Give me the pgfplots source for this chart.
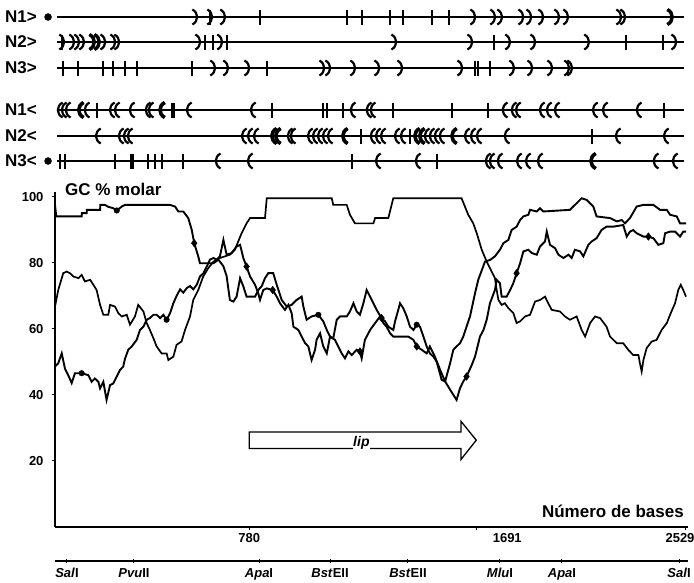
\documentclass[border=0pt]{standalone}
\usepackage{fontspec}
\setmainfont{Liberation Sans}
\usepackage{pgfplots}
\pgfplotsset{compat=1.18}
\pgfdeclareplotmark{rarc}{%
  \pgfpathmoveto{\pgfqpoint{-0.35\pgfplotmarksize}{\pgfplotmarksize}}%
  \pgfpathcurveto{\pgfqpoint{0.5\pgfplotmarksize}{0.55\pgfplotmarksize}}{\pgfqpoint{0.5\pgfplotmarksize}{-0.55\pgfplotmarksize}}{\pgfqpoint{-0.35\pgfplotmarksize}{-\pgfplotmarksize}}%
  \pgfusepathqstroke}
\pgfdeclareplotmark{larc}{%
  \pgfpathmoveto{\pgfqpoint{0.35\pgfplotmarksize}{\pgfplotmarksize}}%
  \pgfpathcurveto{\pgfqpoint{-0.5\pgfplotmarksize}{0.55\pgfplotmarksize}}{\pgfqpoint{-0.5\pgfplotmarksize}{-0.55\pgfplotmarksize}}{\pgfqpoint{0.35\pgfplotmarksize}{-\pgfplotmarksize}}%
  \pgfusepathqstroke}
\newcommand{\lbl}{\fontsize{17}{19}\selectfont\bfseries}
\newcommand{\tck}{\fontsize{13}{15}\selectfont\bfseries}
\begin{document}
\begin{tikzpicture}[x=1pt,y=1pt]
\useasboundingbox (0,0) rectangle (694,-582);
% ---------------- ORF tracks ----------------
\node[anchor=west,font=\lbl,inner sep=0pt] at (5pt,-17pt) {N1>};
\node[anchor=west,font=\lbl,inner sep=0pt] at (5pt,-42pt) {N2>};
\node[anchor=west,font=\lbl,inner sep=0pt] at (5pt,-68pt) {N3>};
\node[anchor=west,font=\lbl,inner sep=0pt] at (5pt,-110pt) {N1<};
\node[anchor=west,font=\lbl,inner sep=0pt] at (5pt,-136pt) {N2<};
\node[anchor=west,font=\lbl,inner sep=0pt] at (5pt,-161pt) {N3<};
\begin{axis}[at={(55pt,0pt)}, anchor=north west, scale only axis,
  width=633pt, height=175pt, xmin=0, xmax=2541, ymin=0, ymax=175,
  y dir=reverse, hide axis, clip=false]
\addplot[black, line width=2.8pt] coordinates {(8,17) (2525,17)};
\addplot[black, line width=2.8pt] coordinates {(8,42) (2525,42)};
\addplot[black, line width=2.8pt] coordinates {(8,68) (2525,68)};
\addplot[black, line width=2.8pt] coordinates {(8,110) (2525,110)};
\addplot[black, line width=2.8pt] coordinates {(8,136) (2525,136)};
\addplot[black, line width=2.8pt] coordinates {(8,161) (2525,161)};
% start dots
\addplot[only marks, mark=*, mark size=3.5pt, black] coordinates {(-28,17) (-28,161)};
% forward frames: arcs
\addplot[only marks, mark=rarc, mark size=7.5pt, black, mark options={line width=2.2pt}] coordinates {
(562,17) (622,17) (674,17) (1678,17) (1758,17) (1786,17) (1871,17) (1903,17) (1951,17) (2015,17) (2051,17) (2264,17) (2280,17) (2469,17)
(28,42) (68,42) (88,42) (108,42) (149,42) (169,42) (193,42) (233,42) (249,42) (574,42) (662,42) (1361,42) (1666,42) (1818,42) (1919,42) (2135,42) (2485,42)
(634,68) (686,68) (771,68) (1072,68) (1096,68) (1196,68) (1293,68) (1385,68) (1626,68) (1834,68) (1907,68) (1987,68) (2055,68) (2067,68)};
\addplot[only marks, mark=rarc, mark size=7.5pt, black, mark options={line width=3.4pt}] coordinates {(149,42) (169,42) (2469,17)};
% reverse frames: arcs
\addplot[only marks, mark=larc, mark size=7.5pt, black, mark options={line width=2.2pt}] coordinates {
(20,110) (36,110) (52,110) (104,110) (128,110) (229,110) (249,110) (309,110) (373,110) (385,110) (430,110) (538,110) (795,110) (1196,110) (1260,110) (1276,110) (1806,110) (1842,110) (1859,110) (1955,110) (1983,110) (2015,110) (2168,110) (2208,110) (2344,110)
(173,136) (265,136) (285,136) (301,136) (759,136) (783,136) (807,136) (879,136) (895,136) (943,136) (955,136) (1024,136) (1044,136) (1064,136) (1084,136) (1104,136) (1164,136) (1276,136) (1297,136) (1317,136) (1373,136) (1397,136) (1453,136) (1473,136) (1493,136) (1513,136) (1533,136) (1553,136) (1602,136) (1654,136) (1678,136) (1702,136) (1814,136) (2260,136) (2453,136)
(654,161) (783,161) (1297,161) (1457,161) (1738,161) (1754,161) (1786,161) (1863,161) (1899,161) (1947,161) (2160,161) (2412,161) (2489,161)};
\addplot[only marks, mark=larc, mark size=7.5pt, black, mark options={line width=3.6pt}] coordinates {
(104,110) (430,110) (879,136) (895,136) (1164,136) (1453,136) (1473,136) (1602,136) (2160,161)};
% stop codons: bars
\addplot[only marks, mark=|, mark size=7.5pt, black, mark options={line width=2.2pt}] coordinates {
(622,17) (823,17) (1172,17) (1232,17) (1345,17) (1397,17) (1513,17) (1582,17)
(28,42) (602,42) (634,42) (690,42) (1762,42) (2292,42) (2441,42)
(32,68) (92,68) (193,68) (233,68) (281,68) (329,68) (550,68) (851,68) (1686,68) (1698,68) (1746,68)
(169,110) (474,110) (871,110) (1076,110) (1092,110) (1156,110) (1357,110) (1594,110) (1738,110) (2445,110)
(1228,136) (1425,136) (2156,136)
(20,161) (40,161) (241,161) (309,161) (373,161) (401,161) (430,161) (514,161) (1192,161) (1533,161)};
\addplot[only marks, mark=|, mark size=7.5pt, black, mark options={line width=3.6pt}] coordinates {(474,110) (309,161)};
\end{axis}
% ---------------- GC plot ----------------
\node[anchor=west,font=\lbl,inner sep=0pt] at (65pt,-189pt) {GC \% molar};
\node[anchor=east,font=\lbl,inner sep=0pt] at (684pt,-511pt) {Número de bases};
\begin{axis}[at={(55pt,-527pt)}, anchor=south west, scale only axis,
  width=633pt, height=335pt, xmin=0, xmax=2541, ymin=0, ymax=101.5,
  axis x line=bottom, axis y line=left,
  axis line style={line width=2.2pt,-},
  ytick={20,40,60,80,100}, yticklabels={20,40,60,80,100},
  yticklabel style={font=\tck, xshift=-5pt},
  xtick={780,1691,2529},
  xticklabels={780,\hspace*{62pt}1691,2529\hspace*{10pt}},
  xticklabel style={font=\tck},
  tick style={black, line width=1pt}, major tick length=3pt,
  tick align=outside, clip=false]
% GC curve A (frame high at the 5' end)
\addplot[black, line width=1.9pt] coordinates {
(0,97.6) (5,94.1) (107,94.1) (108,95.1) (127,95.1) (128,96.1) (181,96.1) (182,97.6) (201,97.6) (214,97.0) (234,96.6) (248,95.9) (268,97.1) (281,97.6) (462,97.6) (482,97.1) (495,95.6) (515,95.6) (535,93.6) (549,90.0) (559,86.0) (575,82.0) (582,79.9) (636,79.9) (656,81.0) (676,79.0) (689,76.0) (702,68.8) (716,68.3) (729,69.8) (743,75.4) (756,72.9) (769,69.8) (803,69.8) (816,71.8) (830,73.0) (843,75.4) (856,76.9) (876,76.9) (890,73.4) (910,68.8) (930,66.8) (950,67.3) (970,68.8) (990,69.8) (997,66.8) (1010,62.8) (1030,63.8) (1057,64.3) (1077,62.3) (1091,59.7) (1104,57.7) (1117,57.2) (1131,62.8) (1144,63.8) (1171,63.8) (1184,65.3) (1198,67.8) (1211,65.3) (1224,64.3) (1238,67.8) (1251,71.8) (1265,69.8) (1278,67.8) (1291,65.8) (1311,63.3) (1325,62.3) (1338,60.7) (1358,59.7) (1365,62.3) (1378,65.8) (1385,67.8) (1398,66.3) (1412,63.8) (1425,60.7) (1439,59.7) (1452,61.3) (1465,60.7) (1479,57.7) (1492,54.7) (1505,52.6) (1519,51.6) (1532,50.1) (1552,44.6) (1566,44.1) (1586,49.6) (1599,53.7) (1612,54.7) (1626,55.7) (1639,57.7) (1652,60.7) (1666,63.8) (1686,70.8) (1699,74.9) (1726,80.4) (1746,80.9) (1766,82.0) (1786,84.0) (1800,86.0) (1820,87.0) (1833,90.0) (1853,91.0) (1867,93.0) (1880,94.1) (1900,94.6) (1907,96.1) (1934,95.6) (1947,96.6) (1960,95.6) (2067,96.1) (2094,98.1) (2114,99.6) (2134,99.1) (2161,97.1) (2174,94.1) (2228,93.6) (2255,92.6) (2275,93.0) (2288,92.0) (2308,93.6) (2335,97.1) (2362,97.6) (2402,97.6) (2429,96.1) (2456,96.1) (2469,94.6) (2496,94.1) (2509,92.0) (2533,92.0)};
% GC curve B (frame high inside lip)
\addplot[black, line width=1.7pt] coordinates {
(0,66.8) (13,71.8) (33,76.9) (47,77.4) (60,76.9) (74,75.9) (94,75.4) (107,76.4) (120,74.4) (141,74.9) (154,73.4) (167,71.8) (181,67.3) (194,64.3) (214,64.3) (221,67.3) (241,66.8) (254,64.8) (268,63.8) (288,64.3) (301,61.3) (321,63.8) (334,67.3) (355,65.3) (368,61.8) (381,59.7) (395,57.2) (408,54.7) (428,52.6) (448,52.6) (455,50.6) (475,51.6) (488,55.2) (508,56.2) (522,59.7) (542,63.8) (555,68.8) (575,71.8) (595,75.9) (615,78.4) (636,80.4) (662,81.5) (702,82.5) (722,84.0) (749,89.0) (769,92.0) (783,93.6) (843,93.6) (850,99.6) (1111,99.6) (1117,97.6) (1171,97.6) (1184,94.6) (1204,92.0) (1278,92.0) (1285,93.6) (1338,93.6) (1358,99.6) (1632,99.6) (1646,97.0) (1659,94.6) (1679,92.0) (1693,89.0) (1713,84.0) (1733,80.4) (1753,77.4) (1766,75.4) (1773,71.8) (1780,68.8) (1793,67.3) (1806,67.8) (1820,66.3) (1840,64.8) (1853,61.8) (1867,62.3) (1887,63.8) (1907,64.3) (1927,68.3) (1947,68.8) (1967,69.8) (1980,67.8) (1994,65.8) (2027,65.3) (2047,63.8) (2067,62.8) (2094,63.8) (2114,59.7) (2128,57.7) (2148,61.8) (2168,63.8) (2188,63.3) (2214,60.7) (2228,57.7) (2255,55.7) (2281,55.7) (2301,53.7) (2321,52.1) (2342,52.1) (2348,49.6) (2355,47.1) (2362,50.6) (2375,54.2) (2395,56.2) (2415,56.7) (2435,59.7) (2456,61.8) (2469,64.3) (2489,67.8) (2502,71.8) (2512,73.4) (2522,71.8) (2533,69.8)};
% GC curve C (frame high at the 3' end)
\addplot[black, line width=1.9pt] coordinates {
(0,48.6) (13,49.6) (27,52.6) (40,48.0) (53,46.0) (67,43.6) (80,46.6) (107,46.6) (134,46.0) (147,44.0) (160,45.0) (174,44.0) (181,42.0) (194,44.0) (207,38.5) (221,43.0) (234,43.5) (248,45.6) (261,47.6) (274,48.6) (281,51.0) (294,53.7) (308,54.7) (328,56.7) (341,59.7) (355,60.7) (368,62.8) (381,63.3) (395,64.3) (408,64.3) (422,63.3) (435,64.3) (448,62.8) (462,64.8) (475,67.8) (488,70.0) (502,72.0) (515,71.0) (529,72.4) (542,73.0) (555,72.0) (569,73.4) (582,75.9) (596,76.9) (609,78.9) (622,81.0) (636,81.5) (649,81.0) (662,82.0) (676,87.0) (689,82.5) (709,83.0) (729,85.0) (743,85.5) (756,81.5) (769,78.9) (783,75.9) (803,73.4) (816,70.8) (823,68.8) (836,71.8) (850,72.3) (874,71.8) (890,69.8) (903,67.8) (923,65.8) (937,67.3) (950,64.8) (957,60.7) (977,59.7) (990,57.7) (1004,55.7) (1017,54.7) (1030,50.6) (1044,53.7) (1050,56.7) (1064,58.7) (1077,54.7) (1091,52.6) (1104,57.7) (1124,56.7) (1137,54.7) (1151,52.6) (1164,51.1) (1178,53.2) (1191,52.1) (1211,53.7) (1224,53.2) (1231,51.1) (1244,56.7) (1265,59.7) (1285,61.8) (1305,63.8) (1318,61.8) (1331,60.7) (1345,58.7) (1358,57.7) (1398,57.7) (1418,57.7) (1439,56.7) (1452,54.7) (1472,53.7) (1492,52.6) (1505,54.7) (1525,51.6) (1546,47.6) (1566,44.1) (1586,41.6) (1612,38.5) (1626,42.1) (1639,44.1) (1652,45.6) (1673,49.1) (1686,51.6) (1706,57.7) (1720,59.7) (1733,62.8) (1746,67.8) (1766,71.8) (1773,74.9) (1786,73.9) (1793,69.8) (1813,69.8) (1827,71.8) (1840,73.9) (1853,76.9) (1867,79.9) (1880,83.5) (1900,84.0) (1914,83.0) (1934,82.5) (1947,85.0) (1967,86.5) (1974,89.5) (1987,85.5) (2007,84.5) (2021,82.5) (2041,81.5) (2061,82.5) (2074,81.5) (2087,84.0) (2108,83.5) (2121,82.0) (2141,85.5) (2154,86.5) (2174,87.5) (2194,90.0) (2214,91.0) (2241,91.0) (2281,91.5) (2295,88.0) (2308,89.5) (2321,90.0) (2335,89.0) (2362,88.0) (2382,88.0) (2402,87.5) (2422,85.5) (2442,86.0) (2449,89.0) (2469,89.5) (2489,89.5) (2509,88.0) (2522,89.5) (2533,89.5)};
% point markers on the curves
\addplot[only marks, mark=diamond*, mark size=3.8pt, black] coordinates {
(559,86.0) (1311,63.3) (769,78.9) (874,71.8) (1224,53.2) (1452,54.7) (1652,45.6) (1853,76.9) (2382,88.0)};
\addplot[only marks, mark=*, mark size=2.8pt, black] coordinates {
(248,95.9) (1057,64.3) (1452,61.3) (107,46.6) (448,62.8)};
% lip gene arrow
\draw[black, line width=1.3pt] (axis cs:780,23.8) -- (axis cs:1630,23.8) -- (axis cs:1630,20.5) -- (axis cs:1691,26.3) -- (axis cs:1630,32) -- (axis cs:1630,28.8) -- (axis cs:780,28.8) -- cycle;
\node[fill=white, inner sep=0.6pt, font=\fontsize{14}{14}\selectfont\bfseries\itshape] at (axis cs:1230,25.6) {lip};
\end{axis}
% ---------------- restriction map ----------------
\begin{axis}[at={(55pt,-561pt)}, anchor=south west, scale only axis,
  width=633pt, height=1pt, xmin=0, xmax=2541, ymin=0, ymax=1,
  axis x line=bottom, axis y line=none,
  axis line style={line width=2.4pt,-},
  xtick={48,317,819,1104,1417,1786,2035,2505},
  xticklabels={\textit{Sal}I,\textit{Pvu}II,\textit{Apa}I,\textit{Bst}EII,\textit{Bst}EII,\textit{Mlu}I,\textit{Apa}I,\textit{Sal}I},
  xticklabel style={font=\tck, yshift=-2pt},
  tick style={black, line width=1pt}, major tick length=4pt, tick align=center]
\addplot[draw=none] coordinates {(0,0) (2541,0)};
\end{axis}
\end{tikzpicture}
\end{document}
